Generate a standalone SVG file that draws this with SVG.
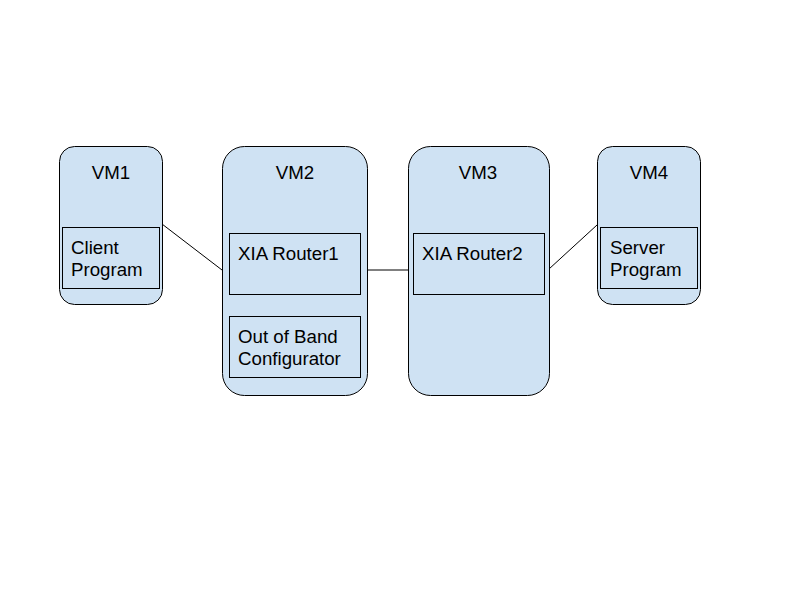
<svg xmlns="http://www.w3.org/2000/svg" width="800" height="600" viewBox="0 0 800 600">
<style>
.vm{fill:#cfe2f3;stroke:#000;stroke-width:1}
.box{fill:none;stroke:#000;stroke-width:1}
.t{font-family:"Liberation Sans",Arial,sans-serif;font-size:18.7px;fill:#000}
.c{text-anchor:middle}
.ln{stroke:#000;stroke-width:1;fill:none}
</style>
<rect width="800" height="600" fill="#fff"/>
<g id="connectors">
<line class="ln" x1="162" y1="224" x2="222" y2="270"/>
<line class="ln" x1="367" y1="270" x2="408" y2="270"/>
<line class="ln" x1="549" y1="269" x2="597" y2="225"/>
</g>
<g id="vm1">
<rect class="vm" x="59.5" y="146.5" width="103" height="158" rx="15"/>
<text class="t c" x="111" y="179">VM1</text>
<rect class="box" x="62.5" y="227.5" width="97" height="61"/>
<text class="t" x="71" y="254">Client</text>
<text class="t" x="71" y="276">Program</text>
</g>
<g id="vm2">
<rect class="vm" x="222.5" y="146.5" width="145" height="249" rx="22"/>
<text class="t c" x="295" y="179">VM2</text>
<g id="router1">
<rect class="box" x="229.5" y="233.5" width="131" height="61"/>
<text class="t" x="238" y="260">XIA Router1</text>
</g>
<g id="oob">
<rect class="box" x="229.5" y="316.5" width="131" height="61"/>
<text class="t" x="238" y="343">Out of Band</text>
<text class="t" x="238" y="365">Configurator</text>
</g>
</g>
<g id="vm3">
<rect class="vm" x="408.5" y="146.5" width="141" height="249" rx="22"/>
<text class="t c" x="478" y="179">VM3</text>
<g id="router2">
<rect class="box" x="413.5" y="233.5" width="131" height="61"/>
<text class="t" x="422" y="260">XIA Router2</text>
</g>
</g>
<g id="vm4">
<rect class="vm" x="597.5" y="146.5" width="103" height="158" rx="15"/>
<text class="t c" x="649" y="179">VM4</text>
<rect class="box" x="600.5" y="227.5" width="97" height="61"/>
<text class="t" x="610" y="254">Server</text>
<text class="t" x="610" y="276">Program</text>
</g>
</svg>
